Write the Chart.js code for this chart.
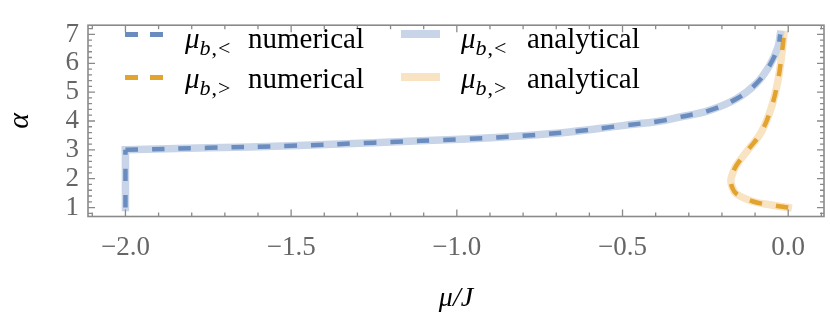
<!DOCTYPE html>
<html>
<head>
<meta charset="utf-8">
<script src="https://cdn.jsdelivr.net/npm/chart.js@4.4.1/dist/chart.umd.min.js"></script>
<style>
    body { margin: 0; background: #fff; }
    #wrap { position: relative; width: 830px; height: 326px; }
    #chart { position: absolute; left: 0; top: 0; }
    .leg { position: absolute; font-family: 'Liberation Serif', 'Times New Roman', Times, serif; font-size: 29px; line-height: 1; color: #000; white-space: nowrap; }
    .leg i { font-style: italic; }
    .leg sub { font-size: 22px; vertical-align: -7px; line-height: 0; letter-spacing: 1px; }
    .dash { position: absolute; height: 5px; }
    .bar { position: absolute; height: 8px; }
</style>
</head>
<body>
<div id="wrap">
    <canvas id="chart" width="830" height="326"></canvas>

    <!-- legenda -->
    <div class="dash" style="left:125px; top:32px; width:13px; background:#6a8cbf;"></div>
    <div class="dash" style="left:150px; top:32px; width:13px; background:#6a8cbf;"></div>
    <div class="leg" style="left:185px; top:24px;"><i>μ</i><sub><i>b</i>,&lt;</sub></div>
    <div class="leg" style="left:248px; top:24px;">numerical</div>

    <div class="dash" style="left:125px; top:75px; width:13px; background:#e3a32f;"></div>
    <div class="dash" style="left:150px; top:75px; width:13px; background:#e3a32f;"></div>
    <div class="leg" style="left:185px; top:64px;"><i>μ</i><sub><i>b</i>,&gt;</sub></div>
    <div class="leg" style="left:248px; top:64px;">numerical</div>

    <div class="bar" style="left:401px; top:30px; width:39px; background:#c8d5e8;"></div>
    <div class="leg" style="left:461px; top:24px;"><i>μ</i><sub><i>b</i>,&lt;</sub></div>
    <div class="leg" style="left:527px; top:24px;">analytical</div>

    <div class="bar" style="left:401px; top:73px; width:39px; background:#f8e3c2;"></div>
    <div class="leg" style="left:461px; top:64px;"><i>μ</i><sub><i>b</i>,&gt;</sub></div>
    <div class="leg" style="left:527px; top:64px;">analytical</div>
</div>

<script>
// dados (mu/J no eixo x, alpha no eixo y)
const blueVertMu = [-2, -2];
const blueVertAlpha = [1, 3];
const blueMu = [-2, -1.75, -1.5, -1.25, -0.97, -0.8, -0.66, -0.5, -0.39, -0.33, -0.24, -0.156, -0.096, -0.056, -0.031, -0.024];
const blueAlpha = [3, 3.07, 3.14, 3.25, 3.38, 3.49, 3.62, 3.84, 3.99, 4.13, 4.36, 4.77, 5.3, 5.93, 6.56, 7.0];
const orangeMu = [0.0, -0.046, -0.106, -0.156, -0.169, -0.173, -0.167, -0.156, -0.121, -0.081, -0.051, -0.031, -0.018, -0.013];
const orangeAlpha = [1.0, 1.08, 1.21, 1.47, 1.7, 1.95, 2.2, 2.47, 3.0, 3.62, 4.46, 5.4, 6.45, 7.0];

const xTicks = [-2.0, -1.5, -1.0, -0.5, 0.0];
const yTicks = [1, 2, 3, 4, 5, 6, 7];

const serif = "'Liberation Serif', 'Times New Roman', Times, serif";

function toPoints(xs, ys) {
    return xs.map((x, i) => ({ x: x, y: ys[i] }));
}

function numerical(xs, ys, color) {
    return {
        data: toPoints(xs, ys),
        borderColor: color,
        borderWidth: 4.5,
        borderDash: [12.5, 14],
        borderCapStyle: 'butt',
        pointRadius: 0,
        showLine: true,
        tension: 0.4,
        order: 1
    };
}

function analytical(xs, ys, color) {
    return {
        data: toPoints(xs, ys),
        borderColor: color,
        borderWidth: 7.5,
        borderCapStyle: 'square',
        pointRadius: 0,
        showLine: true,
        tension: 0.4,
        order: 2
    };
}

// moldura com ticks maiores e menores nos quatro lados
const framePlugin = {
    id: 'frame',
    afterDraw(chart) {
        const ctx = chart.ctx;
        const a = chart.chartArea;
        const xs = chart.scales.x;
        const ys = chart.scales.y;
        ctx.save();
        ctx.strokeStyle = '#8a8a8a';
        ctx.lineWidth = 1.3;
        for (let k = -21; k <= 1; k++) {
            const v = k / 10;
            const px = xs.getPixelForValue(v);
            const len = (k % 5 === 0) ? 7 : 4;
            ctx.beginPath();
            ctx.moveTo(px, a.bottom); ctx.lineTo(px, a.bottom - len);
            ctx.moveTo(px, a.top); ctx.lineTo(px, a.top + len);
            ctx.stroke();
        }
        for (let k = 4; k <= 36; k++) {
            const v = k / 5;
            const py = ys.getPixelForValue(v);
            const len = (k % 5 === 0) ? 7 : 4;
            ctx.beginPath();
            ctx.moveTo(a.left, py); ctx.lineTo(a.left + len, py);
            ctx.moveTo(a.right, py); ctx.lineTo(a.right - len, py);
            ctx.stroke();
        }
        ctx.lineWidth = 1.6;
        ctx.strokeRect(a.left, a.top, a.right - a.left, a.bottom - a.top);
        ctx.restore();
    }
};

document.addEventListener('DOMContentLoaded', function() {
    const ctx = document.getElementById('chart');
    new Chart(ctx, {
        type: 'scatter',
        data: {
            datasets: [
                numerical(blueVertMu, blueVertAlpha, '#6a8cbf'),
                numerical(blueMu, blueAlpha, '#6a8cbf'),
                numerical(orangeMu, orangeAlpha, '#e3a32f'),
                analytical(blueVertMu, blueVertAlpha, '#c8d5e8'),
                analytical(blueMu, blueAlpha, '#c8d5e8'),
                analytical(orangeMu, orangeAlpha, '#f8e3c2')
            ]
        },
        options: {
            responsive: false,
            animation: false,
            devicePixelRatio: 1,
            layout: { padding: { left: 0, right: 6, top: 6, bottom: 8 } },
            plugins: {
                legend: { display: false },
                tooltip: { enabled: false }
            },
            scales: {
                x: {
                    type: 'linear',
                    min: -2.113,
                    max: 0.108,
                    grid: { display: false, drawTicks: false },
                    border: { display: false },
                    afterBuildTicks: function(s) { s.ticks = xTicks.map(v => ({ value: v })); },
                    afterFit: function(s) { s.height = 101.5; },
                    ticks: {
                        autoSkip: false,
                        maxRotation: 0,
                        padding: 15,
                        color: '#666',
                        font: { family: serif, size: 27 },
                        callback: function(v) { return (v < 0 ? '\u2212' : '') + Math.abs(v).toFixed(1); }
                    },
                    title: {
                        display: true,
                        text: 'μ/J',
                        color: '#000',
                        font: { family: serif, size: 28, style: 'italic' },
                        padding: { top: 0, bottom: 3 }
                    }
                },
                y: {
                    type: 'linear',
                    min: 0.69,
                    max: 7.32,
                    grid: { display: false, drawTicks: false },
                    border: { display: false },
                    afterBuildTicks: function(s) { s.ticks = yTicks.map(v => ({ value: v })); },
                    afterFit: function(s) { s.width = 88; },
                    ticks: {
                        autoSkip: false,
                        padding: 9,
                        color: '#666',
                        font: { family: serif, size: 27 }
                    },
                    title: {
                        display: true,
                        text: 'α',
                        color: '#000',
                        font: { family: serif, size: 30, style: 'italic' },
                        padding: { top: 2, bottom: 0 }
                    }
                }
            }
        },
        plugins: [framePlugin]
    });
});
</script>
</body>
</html>
